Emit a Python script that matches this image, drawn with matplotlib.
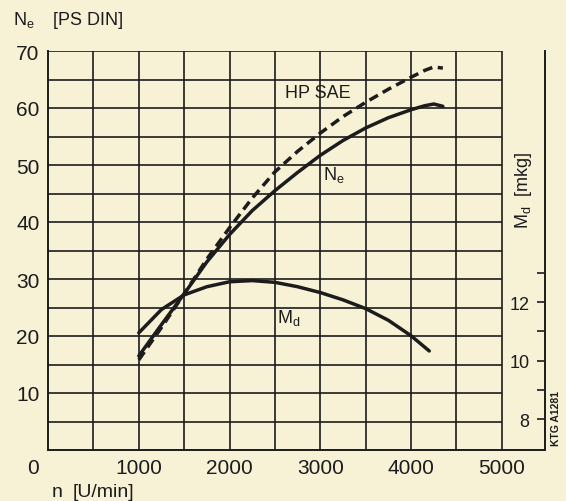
import numpy as np
import matplotlib
matplotlib.use('Agg')
import matplotlib.pyplot as plt

plt.rcParams['font.family'] = ['Liberation Sans', 'DejaVu Sans']
plt.rcParams['mathtext.fontset'] = 'custom'
plt.rcParams['mathtext.rm'] = 'Liberation Sans'

# engine speed [U/min]
n_ne = [1000, 1250, 1500, 1750, 2000, 2250, 2500, 2750, 3000, 3250, 3500, 3750, 4000, 4150, 4250, 4350]
ne_din = [16.5, 22.0, 27.4, 33.0, 37.8, 42.0, 45.5, 48.7, 51.7, 54.3, 56.5, 58.3, 59.7, 60.4, 60.7, 60.3]
hp_sae = [15.8, 21.5, 27.4, 33.5, 39.0, 44.2, 48.8, 52.4, 55.6, 58.5, 61.0, 63.3, 65.4, 66.6, 67.2, 67.0]

n_md = [1000, 1250, 1500, 1750, 2000, 2250, 2500, 2750, 3000, 3250, 3500, 3750, 4000, 4200]
md = [10.95, 11.75, 12.25, 12.53, 12.7, 12.74, 12.68, 12.53, 12.33, 12.08, 11.78, 11.38, 10.85, 10.33]

x_ticks = [1000, 2000, 3000, 4000, 5000]
y_ticks = [10, 20, 30, 40, 50, 60, 70]
md_ticks = [8, 10, 12]
md_minor = [9, 11, 13]

paper = '#f7f1d6'
ink = '#1c1c1c'

fig = plt.figure(figsize=(5.66, 5.02), dpi=100, facecolor=paper)
ax = fig.add_axes([48/566, 51/502, 497/566, 399/502])
ax.set_facecolor(paper)
ax.set_xlim(0, 5475)
ax.set_ylim(0, 70)

# grid only over 0..5000
for x in np.arange(500, 5001, 500):
    ax.vlines(x, 0, 70, color=ink, lw=1.2, zorder=1)
for y in np.arange(5, 71, 5):
    ax.hlines(y, 0, 5000, color=ink, lw=1.2, zorder=1)

ax.plot(n_ne, ne_din, color=ink, lw=2.5, solid_capstyle='round', zorder=3)
ax.plot(n_ne, hp_sae, color=ink, lw=2.5, dashes=(2.8, 1.6), zorder=3)

for s in ['top', 'right']:
    ax.spines[s].set_visible(False)
for s in ['left', 'bottom']:
    ax.spines[s].set_color(ink)
    ax.spines[s].set_linewidth(1.4)

ax.set_xticks(x_ticks)
ax.set_yticks(y_ticks)
ax.tick_params(length=0, labelsize=15, colors=ink, pad=6)
ax.text(-165, -3, '0', fontsize=15, color=ink, ha='center', va='center')

ax.text(2970, 62.8, 'HP SAE', fontsize=13, color=ink, ha='center', va='center')
ax.text(3028, 47.5, r'N$_\mathregular{e}$', fontsize=13, color=ink, va='baseline')
ax.text(2520, 22.5, r'M$_\mathregular{d}$', fontsize=13, color=ink, va='baseline')

ax2 = ax.twinx()
ax2.set_ylim(6.94, 20.6)
ax2.plot(n_md, md, color=ink, lw=2.5, solid_capstyle='round', zorder=3)
for s in ['top', 'left', 'bottom']:
    ax2.spines[s].set_visible(False)
ax2.spines['right'].set_color(ink)
ax2.spines['right'].set_linewidth(1.4)
ax2.set_yticks(md_ticks)
ax2.set_yticks(md_minor, minor=True)
ax2.tick_params(axis='y', which='both', direction='in', length=6, width=1.2, colors=ink)
ax2.tick_params(axis='y', which='major', labelsize=13, pad=-11)
for lbl in ax2.get_yticklabels():
    lbl.set_horizontalalignment('right')

fig.text(13/566, 1 - 25/502, r'N$_\mathregular{e}$', fontsize=13, color=ink, va='baseline')
fig.text(53/566, 1 - 25/502, '[PS DIN]', fontsize=13, color=ink, va='baseline')
fig.text(52/566, 1 - 497/502, 'n', fontsize=14, color=ink, va='baseline')
fig.text(73/566, 1 - 497/502, '[U/min]', fontsize=14, color=ink, va='baseline')
fig.text(523/566, 1 - 190/502, r'M$_\mathregular{d}$  [mkg]', fontsize=13, color=ink,
         rotation=90, ha='center', va='center')
fig.text(556/566, 1 - 418/502, 'KTG A1281', fontsize=7.5, color=ink, fontweight='bold',
         rotation=90, ha='center', va='center')

fig.savefig('out.png', dpi=100, facecolor=paper)
